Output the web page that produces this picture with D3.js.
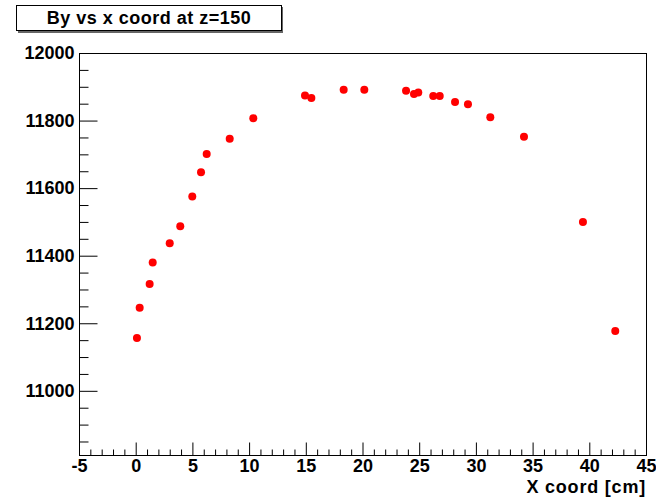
<!DOCTYPE html>
<html>
<head>
<meta charset="utf-8">
<script src="https://cdn.jsdelivr.net/npm/d3@7"></script>
<style>
  body { margin: 0; background: #fff; }
  svg { display: block; }
  text { font-family: "Liberation Sans", Arial, sans-serif; font-weight: bold; fill: #000; }
</style>
</head>
<body>
<script>
// measured points: x coord [cm], By
const xCoord = [0.11, 0.35, 1.23, 1.50, 3.00, 3.93, 4.99, 5.76, 6.26, 8.29, 10.37,
    14.93, 15.49, 18.34, 20.16, 23.84, 24.54, 24.92, 26.24, 26.81, 28.16, 29.30,
    31.27, 34.24, 39.44, 42.29];
const byValue = [11156, 11246, 11316, 11380, 11437, 11487, 11575, 11647, 11701, 11746, 11807,
    11874, 11867, 11891, 11891, 11888, 11879, 11883, 11873, 11873, 11855, 11848,
    11810, 11752, 11500, 11177];

const xMajor = [-5, 0, 5, 10, 15, 20, 25, 30, 35, 40, 45];
const yMajor = [11000, 11200, 11400, 11600, 11800, 12000];

const title = "By vs x coord at z=150";
const xTitle = "X coord [cm]";

const width = 656, height = 497;
const frame = {left: 79, top: 53, right: 646, bottom: 455};

const svg = d3.select("body")
    .append("svg")
    .attr("width", width)
    .attr("height", height);

const x = d3.scaleLinear().domain([-5, 45]).range([frame.left, frame.right]);
const y = d3.scaleLinear().domain([10810, 12000]).range([frame.bottom, frame.top]);

// minor ticks
const xMinor = d3.range(-5, 45.01, 1).filter(v => v % 5 !== 0);
const yMinor = d3.range(10850, 12000, 50).filter(v => v % 200 !== 0);

// frame
svg.append("rect")
    .attr("x", frame.left + 0.5)
    .attr("y", frame.top + 0.5)
    .attr("width", frame.right - frame.left)
    .attr("height", frame.bottom - frame.top)
    .attr("fill", "none")
    .attr("stroke", "#000");

// minor ticks drawn with axes that show no labels
svg.append("g")
    .attr("transform", `translate(${frame.left + 0.5},0)`)
    .call(d3.axisLeft(y).tickValues(yMinor).tickSize(-9).tickFormat(""))
    .call(g => g.select(".domain").remove());

svg.append("g")
    .attr("transform", `translate(0,${frame.bottom + 0.5})`)
    .call(d3.axisBottom(x).tickValues(xMinor).tickSize(-6).tickFormat(""))
    .call(g => g.select(".domain").remove());

// major ticks + labels (plain hyphen for negatives, like the original)
const yAxis = svg.append("g")
    .attr("transform", `translate(${frame.left + 0.5},0)`)
    .call(d3.axisLeft(y).tickValues(yMajor).tickSize(-18).tickPadding(5).tickFormat(d => String(d)));
yAxis.select(".domain").remove();

const xAxis = svg.append("g")
    .attr("transform", `translate(0,${frame.bottom + 0.5})`)
    .call(d3.axisBottom(x).tickValues(xMajor).tickSize(-13).tickPadding(4).tickFormat(d => String(d)));
xAxis.select(".domain").remove();

svg.selectAll(".tick line").attr("stroke", "#000");
svg.selectAll(".tick text")
    .style("font-family", "'Liberation Sans', Arial, sans-serif")
    .style("font-weight", "bold")
    .style("font-size", "18px")
    .attr("fill", "#000");

// points
svg.append("g")
    .selectAll("circle")
    .data(xCoord.map((d, i) => [d, byValue[i]]))
    .join("circle")
    .attr("cx", d => x(d[0]))
    .attr("cy", d => y(d[1]))
    .attr("r", 4)
    .attr("fill", "#ff0000");

// axis title
svg.append("text")
    .attr("x", frame.right)
    .attr("y", 492.5)
    .attr("text-anchor", "end")
    .style("font-size", "18px")
    .style("letter-spacing", "0.8px")
    .text(xTitle);

// title box with shadow
svg.append("rect")
    .attr("x", 18).attr("y", 7)
    .attr("width", 265).attr("height", 26)
    .attr("fill", "#666");
svg.append("rect")
    .attr("x", 16.5).attr("y", 5.5)
    .attr("width", 265).attr("height", 25)
    .attr("fill", "#fff")
    .attr("stroke", "#000");
svg.append("text")
    .attr("x", 149)
    .attr("y", 24)
    .attr("text-anchor", "middle")
    .style("font-size", "18px")
    .style("letter-spacing", "0.5px")
    .text(title);
</script>
</body>
</html>
